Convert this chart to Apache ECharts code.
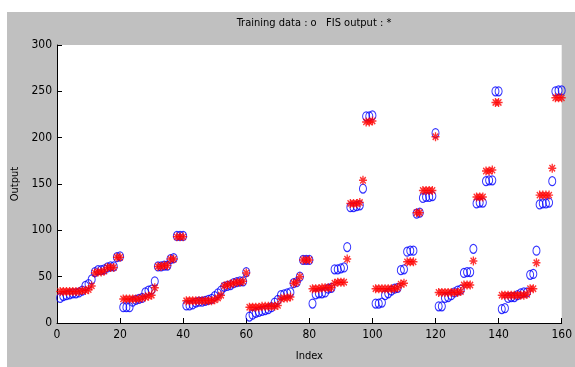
<!DOCTYPE html>
<html>
<head>
<meta charset="utf-8">
<script src="https://cdn.jsdelivr.net/npm/echarts@6/dist/echarts.min.js"></script>
<style>
html, body { margin: 0; padding: 0; background: #fff; }
#chart { width: 575px; height: 367px; }
</style>
</head>
<body>
<div id="chart"></div>
<script>
// training data (blue circles), 160 samples, index 1..160
const trainingData = [
    27, 29, 30, 31, 32, 32, 33, 35, 40, 42, 47, 55, 57, 57, 58, 60, 61, 61, 71, 72,
    17, 17, 17, 23, 25, 26, 27, 33, 35, 36, 45, 61, 61, 62, 62, 69, 70, 94, 94, 94,
    19, 19, 20, 22, 23, 23, 24, 25, 26, 29, 32, 35, 39, 40, 41, 43, 44, 45, 45, 55,
    7, 9, 11, 12, 13, 14, 15, 17, 22, 25, 30, 31, 32, 33, 43, 44, 50, 68, 68, 68,
    21, 31, 32, 32, 33, 37, 38, 58, 58, 59, 60, 82, 125, 125, 126, 127, 145, 223, 223, 224,
    21, 21, 22, 30, 32, 35, 37, 38, 57, 58, 77, 78, 78, 118, 119, 135, 136, 136, 137, 205,
    18, 18, 27, 28, 30, 33, 35, 36, 54, 55, 55, 80, 129, 130, 130, 153, 154, 154, 250, 250,
    15, 16, 27, 28, 28, 30, 32, 33, 33, 52, 53, 78, 128, 129, 129, 130, 153, 250, 251, 251
];
// FIS output (red asterisks)
const fisOutput = [
    34, 34, 34, 34, 34, 34, 34, 35, 35, 36, 40, 54, 55, 55, 56, 60, 60, 60, 71, 71,
    26, 26, 26, 26, 26, 26, 27, 28, 29, 30, 38, 61, 61, 62, 62, 69, 69, 93, 93, 93,
    24, 24, 24, 24, 24, 24, 24, 24, 24, 25, 27, 30, 40, 41, 42, 43, 44, 44, 45, 54,
    17, 17, 17, 17, 18, 18, 18, 18, 18, 19, 26, 27, 27, 28, 43, 44, 50, 68, 68, 68,
    37, 37, 37, 38, 38, 38, 38, 43, 44, 44, 44, 69, 129, 129, 129, 130, 154, 217, 217, 218,
    37, 37, 37, 37, 37, 37, 37, 38, 42, 43, 66, 66, 66, 119, 119, 143, 143, 143, 143, 201,
    33, 33, 33, 33, 33, 33, 33, 34, 41, 41, 41, 67, 136, 136, 136, 164, 164, 165, 238, 238,
    30, 30, 30, 30, 30, 30, 30, 30, 31, 37, 37, 65, 138, 138, 138, 138, 167, 243, 243, 243
];
const xTicks = [0, 160, 20];   // min, max, interval
const yTicks = [0, 300, 50];

const font = "'Liberation Sans Narrow', 'Arial Narrow', 'DejaVu Sans Condensed', sans-serif";
const toPoints = arr => arr.map((v, i) => [i + 1, v]);

const chart = echarts.init(document.getElementById('chart'));
chart.setOption({
    animation: false,
    graphic: [{
        type: 'rect', left: 7, top: 12, z: -100,
        shape: { width: 568, height: 355 },
        style: { fill: '#c0c0c0' }
    }],
    title: {
        text: 'Training data : o   FIS output : *',
        left: 309, top: 13, textAlign: 'center',
        textStyle: { fontFamily: font, fontSize: 11, fontWeight: 'normal', color: '#000' }
    },
    grid: {
        left: 57, right: 13, top: 45, bottom: 38,
        show: true, backgroundColor: '#fff', borderWidth: 0
    },
    xAxis: {
        type: 'value', min: xTicks[0], max: xTicks[1], interval: xTicks[2],
        name: 'Index', nameLocation: 'middle', nameGap: 28,
        nameTextStyle: { fontFamily: font, fontSize: 11, color: '#000' },
        axisLine: { lineStyle: { color: '#000', width: 1 } },
        axisTick: { inside: true, length: 5, lineStyle: { color: '#000' } },
        axisLabel: { fontFamily: font, fontSize: 12, color: '#000', margin: 6 },
        splitLine: { show: false }
    },
    yAxis: {
        type: 'value', min: yTicks[0], max: yTicks[1], interval: yTicks[2],
        name: 'Output', nameLocation: 'middle', nameGap: 32,
        nameTextStyle: { fontFamily: font, fontSize: 11, color: '#000' },
        axisLine: { show: true, lineStyle: { color: '#000', width: 1 } },
        axisTick: { show: true, inside: true, length: 5, lineStyle: { color: '#000' } },
        axisLabel: { fontFamily: font, fontSize: 12, color: '#000', margin: 5 },
        splitLine: { show: false }
    },
    series: [{
        name: 'Training data',
        type: 'scatter',
        data: toPoints(trainingData),
        symbol: 'circle',
        symbolSize: [7, 9],
        itemStyle: { color: 'rgba(0,0,0,0)', borderColor: '#0000ff', borderWidth: 1.1 }
    }, {
        name: 'FIS output',
        type: 'scatter',
        data: toPoints(fisOutput),
        symbol: 'path://M5 0L5 10M0 5L10 5M1.5 1.5L8.5 8.5M8.5 1.5L1.5 8.5',
        symbolSize: [8, 9],
        itemStyle: { color: 'rgba(0,0,0,0)', borderColor: '#ff0000', borderWidth: 1.4 }
    }]
});
</script>
</body>
</html>
